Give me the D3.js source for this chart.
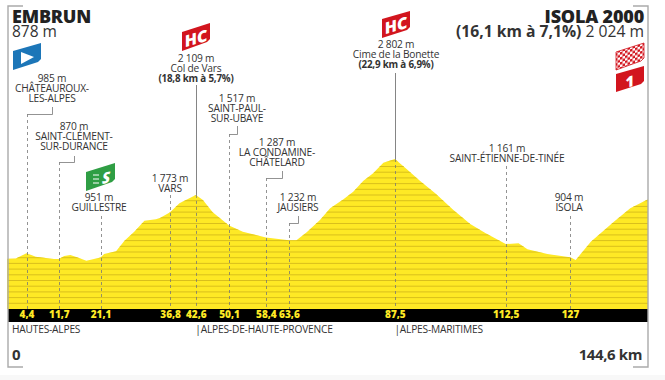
<!DOCTYPE html>
<html>
<head>
<meta charset="utf-8">
<script src="https://cdn.jsdelivr.net/npm/d3@7"></script>
<style>
	html, body { margin: 0; padding: 0; background: #fff; }
	svg { display: block; }
	text { font-family: 'Open Sans', sans-serif; fill: #333; }
</style>
</head>
<body>
<div id="chart"></div>
<script>
// Profile of the stage, distance in km and altitude in m
var profileKm = [0, 2, 4.4, 6.5, 10.6, 11.7, 12.9, 14.3, 15.8, 17.9, 21.1, 21.9, 24.6, 26.5, 28.7, 31, 33.6, 34.4, 36.8,
	38.9, 42.6, 44.2, 46.4, 50.1, 53.2, 58.4, 63.6, 65.3, 67.6, 70.6, 72.9, 75.9, 78.1, 80.4, 82.6, 84.9, 87.5, 90.2,
	93.2, 96.6, 100.7, 104.5, 107.9, 112.5, 115.4, 117.4, 121.9, 127, 128.3, 131.7, 136.9, 140.6, 144.6];
var profileAlt = [878, 880, 985, 916, 872, 870, 930, 950, 905, 840, 900, 968, 1020, 1225, 1400, 1610, 1640, 1660, 1773,
	1947, 2109, 2011, 1773, 1517, 1399, 1287, 1232, 1233, 1387, 1625, 1850, 2024, 2171, 2383, 2526, 2731, 2802, 2603,
	2377, 2140, 1818, 1547, 1374, 1161, 1175, 1059, 968, 904, 853, 1206, 1590, 1850, 2024];

// Passages shown under the profile
var passageKm = [4.4, 11.7, 21.1, 36.8, 42.6, 50.1, 58.4, 63.6, 87.5, 112.5, 127];
var passageAlt = ['985 m', '870 m', '951 m', '1 773 m', '2 109 m', '1 517 m', '1 287 m', '1 232 m', '2 802 m', '1 161 m', '904 m'];
var passageName = [
	['CHÂTEAUROUX-', 'LES-ALPES'],
	['SAINT-CLÉMENT-', 'SUR-DURANCE'],
	['GUILLESTRE'],
	['VARS'],
	['Col de Vars'],
	['SAINT-PAUL-', 'SUR-UBAYE'],
	['LA CONDAMINE-', 'CHÂTELARD'],
	['JAUSIERS'],
	['Cime de la Bonette'],
	['SAINT-ÉTIENNE-DE-TINÉE'],
	['ISOLA']
];
var passageClimb = [null, null, null, null, '(18,8 km à 5,7%)', null, null, null, '(22,9 km à 6,9%)', null, null];

var regionKm = [0, 42.6, 87.5];
var regionName = ['HAUTES-ALPES', '|ALPES-DE-HAUTE-PROVENCE', '|ALPES-MARITIMES'];

var totalKm = 144.6;
var topAlt = 2802;
var bottomAlt = -93;
var stripeStep = 110;

// Where each label block sits: centre x, first baseline, and the leader.
// elbowX / elbowY only for the labels that are off to the side of their line.
var labelLayout = [
	{x: 52, y: 82, top: 114, elbowX: 52, elbowY: 107},
	{x: 74, y: 130, top: 162, elbowX: 74, elbowY: 156},
	{x: 99, y: 201, top: 216},
	{x: 170, y: 182, top: 195},
	{x: 196, y: 62, top: 85, solid: true},
	{x: 237, y: 102, top: 134, elbowX: 237, elbowY: 126},
	{x: 277, y: 146, top: 178, elbowX: 282, elbowY: 171},
	{x: 298, y: 201, top: 223, elbowX: 298, elbowY: 216},
	{x: 396, y: 48, top: 73, solid: true},
	{x: 507, y: 152, top: 166},
	{x: 569, y: 201, top: 216}
];

var width = 665;
var height = 380;
var left = 8;
var right = 648;
var bandTop = 309;
var bandBottom = 322;

var xScale = d3.scaleLinear()
		.domain([0, totalKm])
		.range([left - 1, right]);

var yScale = d3.scaleLinear()
		.domain([bottomAlt, topAlt])
		.range([bandTop, 159]);

var svg = d3.select('#chart').append('svg')
		.attr('width', width)
		.attr('height', height);

svg.append('rect')
		.attr('y', 375)
		.attr('width', width)
		.attr('height', 5)
		.attr('fill', '#f8f8f8');

var profile = d3.zip(profileKm, profileAlt);

var area = d3.area()
		.x(d => xScale(d[0]))
		.y0(bandTop)
		.y1(d => yScale(d[1]));

svg.append('clipPath')
		.attr('id', 'profile-clip')
		.append('path')
		.attr('d', area(profile));

svg.append('path')
		.attr('d', area(profile))
		.attr('fill', '#fee925');

// Darker stripes inside the profile
svg.append('g')
		.attr('clip-path', 'url(#profile-clip)')
		.selectAll('line')
		.data(d3.range(bottomAlt + stripeStep, topAlt, stripeStep))
		.enter()
		.append('line')
		.attr('x1', left)
		.attr('x2', right)
		.attr('y1', d => yScale(d))
		.attr('y2', d => yScale(d))
		.attr('stroke', '#d9bf1c')
		.attr('stroke-width', 1);

/**
 * Draws the leader of one passage, from the label to the black band.
 *
 * @param i {Number} index of the passage
 */
function drawLeader(i) {
	var layout = labelLayout[i];
	var x = Math.round(xScale(passageKm[i])) + 0.5;
	var grey = '#777';

	if(layout.elbowX) {
		svg.append('path')
				.attr('d', d3.line()([[layout.elbowX + 0.5, layout.elbowY], [layout.elbowX + 0.5, layout.top + 0.5], [x, layout.top + 0.5]]))
				.attr('fill', 'none')
				.attr('stroke', grey)
				.attr('stroke-width', 0.8);
	}

	var dashTop = layout.top;
	if(layout.solid) {
		dashTop = yScale(profileAlt[profileKm.indexOf(passageKm[i])]);
		svg.append('line')
				.attr('x1', x)
				.attr('x2', x)
				.attr('y1', layout.top)
				.attr('y2', dashTop)
				.attr('stroke', grey)
				.attr('stroke-width', 0.9);
	}

	svg.append('line')
			.attr('x1', x)
			.attr('x2', x)
			.attr('y1', dashTop)
			.attr('y2', bandTop)
			.attr('stroke', grey)
			.attr('stroke-width', 0.8)
			.attr('stroke-dasharray', '3 3');
}

/**
 * Writes the label block of one passage.
 *
 * @param i {Number} index of the passage
 */
function drawLabel(i) {
	var layout = labelLayout[i];
	var lines = [passageAlt[i]].concat(passageName[i]);
	var group = svg.append('g')
			.attr('text-anchor', 'middle')
			.attr('font-size', '10.2px')
			.attr('letter-spacing', '-0.2px');

	group.selectAll('text')
			.data(lines)
			.enter()
			.append('text')
			.attr('x', layout.x)
			.attr('y', (d, j) => layout.y + j * 10)
			.text(d => d);

	if(passageClimb[i]) {
		group.append('text')
				.attr('x', layout.x)
				.attr('y', layout.y + lines.length * 9.8)
				.attr('font-size', '9.8px')
				.attr('font-weight', 700)
				.text(passageClimb[i]);
	}
}

d3.range(passageKm.length).forEach(drawLeader);
d3.range(passageKm.length).forEach(drawLabel);

// Black band with the distances, drawn with an axis
svg.append('rect')
		.attr('x', left)
		.attr('y', bandTop)
		.attr('width', right - left)
		.attr('height', bandBottom - bandTop)
		.attr('fill', '#000');

var kmAxis = svg.append('g')
		.attr('transform', 'translate(0,' + bandTop + ')')
		.call(d3.axisBottom(xScale)
				.tickValues(passageKm)
				.tickSize(0)
				.tickPadding(2)
				.tickFormat(d => String(d).replace('.', ',')));

kmAxis.select('.domain').remove();
kmAxis.selectAll('text')
		.attr('font-family', null)
		.attr('font-size', '10px')
		.attr('font-weight', 800)
		.style('fill', '#fee925');

// Departments under the band
svg.append('g')
		.selectAll('text')
		.data(regionName)
		.enter()
		.append('text')
		.attr('x', (d, i) => i === 0 ? 12 : xScale(regionKm[i]) - 0.5)
		.attr('y', 333)
		.attr('font-size', '10.2px')
		.attr('letter-spacing', '-0.2px')
		.text(d => d);

svg.append('text')
		.attr('x', 12)
		.attr('y', 360)
		.attr('font-size', '15px')
		.attr('font-weight', 700)
		.text('0');

svg.append('text')
		.attr('x', 642)
		.attr('y', 360)
		.attr('text-anchor', 'end')
		.attr('font-size', '15px')
		.attr('font-weight', 700)
		.attr('letter-spacing', '-0.4px')
		.text(String(totalKm).replace('.', ',') + ' km');

// Frame corners
var frameLine = d3.line();
[
	[[23, 6], [left, 6], [left, 367], [23, 367]],
	[[633, 6], [right, 6], [right, 367], [633, 367]]
].forEach(function(points) {
	svg.append('path')
			.attr('d', frameLine(points))
			.attr('fill', 'none')
			.attr('stroke', '#aaa')
			.attr('stroke-width', 1.4);
});

// Titles
svg.append('text')
		.attr('x', 12)
		.attr('y', 23)
		.attr('font-size', '18px')
		.attr('font-weight', 800)
		.attr('letter-spacing', '-0.2px')
		.style('fill', '#222')
		.text('EMBRUN');

svg.append('text')
		.attr('x', 12)
		.attr('y', 37)
		.attr('font-size', '15.5px')
		.text('878 m');

svg.append('text')
		.attr('x', 644)
		.attr('y', 23)
		.attr('text-anchor', 'end')
		.attr('font-size', '18px')
		.attr('font-weight', 800)
		.attr('letter-spacing', '-0.2px')
		.style('fill', '#222')
		.text('ISOLA 2000');

var finish = svg.append('text')
		.attr('x', 644)
		.attr('y', 37)
		.attr('text-anchor', 'end')
		.attr('font-size', '15.7px');

finish.append('tspan')
		.attr('font-weight', 700)
		.text('(16,1 km à 7,1%) ');

finish.append('tspan')
		.text('2 024 m');

/**
 * Draws one of the slanted flags.
 *
 * @param x {Number} left edge
 * @param y {Number} top of the right side
 * @param w {Number} width
 * @param h {Number} full height
 * @param slant {Number} vertical drop of the top edge
 * @param fill {String} fill colour
 * @returns {Object} the path selection
 */
function drawFlag(x, y, w, h, slant, fill) {
	var c = 3;
	var d = d3.line()([
		[x, y + slant],
		[x + w, y],
		[x + w, y + h - slant - c],
		[x + w - c, y + h - slant],
		[x, y + h]
	]) + 'Z';
	return svg.append('path').attr('d', d).attr('fill', fill);
}

/**
 * Writes the white text on a flag, sheared with it.
 *
 * @param x {Number} centre x
 * @param y {Number} baseline
 * @param size {Number} font size
 * @param label {String} the text
 * @param style {String} font style
 */
function flagText(x, y, size, label, style) {
	svg.append('text')
			.attr('transform', 'translate(' + x + ',' + y + ') skewY(-16)')
			.attr('text-anchor', 'middle')
			.attr('font-size', size + 'px')
			.attr('font-weight', 800)
			.attr('font-style', style)
			.style('fill', '#fff')
			.text(label);
}

// Start flag
drawFlag(13, 43, 28, 27, 8, '#1c76b8');
svg.append('path')
		.attr('d', d3.line()([[21, 52], [34, 57], [21, 64]]) + 'Z')
		.attr('fill', '#fff');

// Sprint flag
drawFlag(86, 163, 29, 28, 9, '#2f9e44');
flagText(106, 183, 15, 'S', 'italic');
svg.append('path')
		.attr('d', 'M93,175H99M93,179H99M93,183H99')
		.attr('stroke', '#fff')
		.attr('stroke-width', 1);

// Mountain flags
drawFlag(182, 23, 28, 28, 9, '#d2151e');
flagText(196, 44, 16, 'HC', 'normal');
drawFlag(382, 11, 28, 27, 8, '#d2151e');
flagText(396, 31, 16, 'HC', 'normal');

// Finish flags
var checks = svg.append('defs').append('pattern')
		.attr('id', 'checks')
		.attr('width', 5)
		.attr('height', 5)
		.attr('patternUnits', 'userSpaceOnUse')
		.attr('patternTransform', 'skewY(-16)');
checks.append('rect').attr('width', 5).attr('height', 5).attr('fill', '#fff');
checks.append('rect').attr('width', 2.5).attr('height', 2.5).attr('fill', '#d2151e');
checks.append('rect').attr('x', 2.5).attr('y', 2.5).attr('width', 2.5).attr('height', 2.5).attr('fill', '#d2151e');

drawFlag(616, 43, 28, 27, 9, 'url(#checks)').attr('stroke', '#d2151e').attr('stroke-width', 0.8);
drawFlag(616, 66, 28, 26, 8, '#d2151e');
flagText(630, 87, 15, '1', 'normal');
</script>
</body>
</html>
